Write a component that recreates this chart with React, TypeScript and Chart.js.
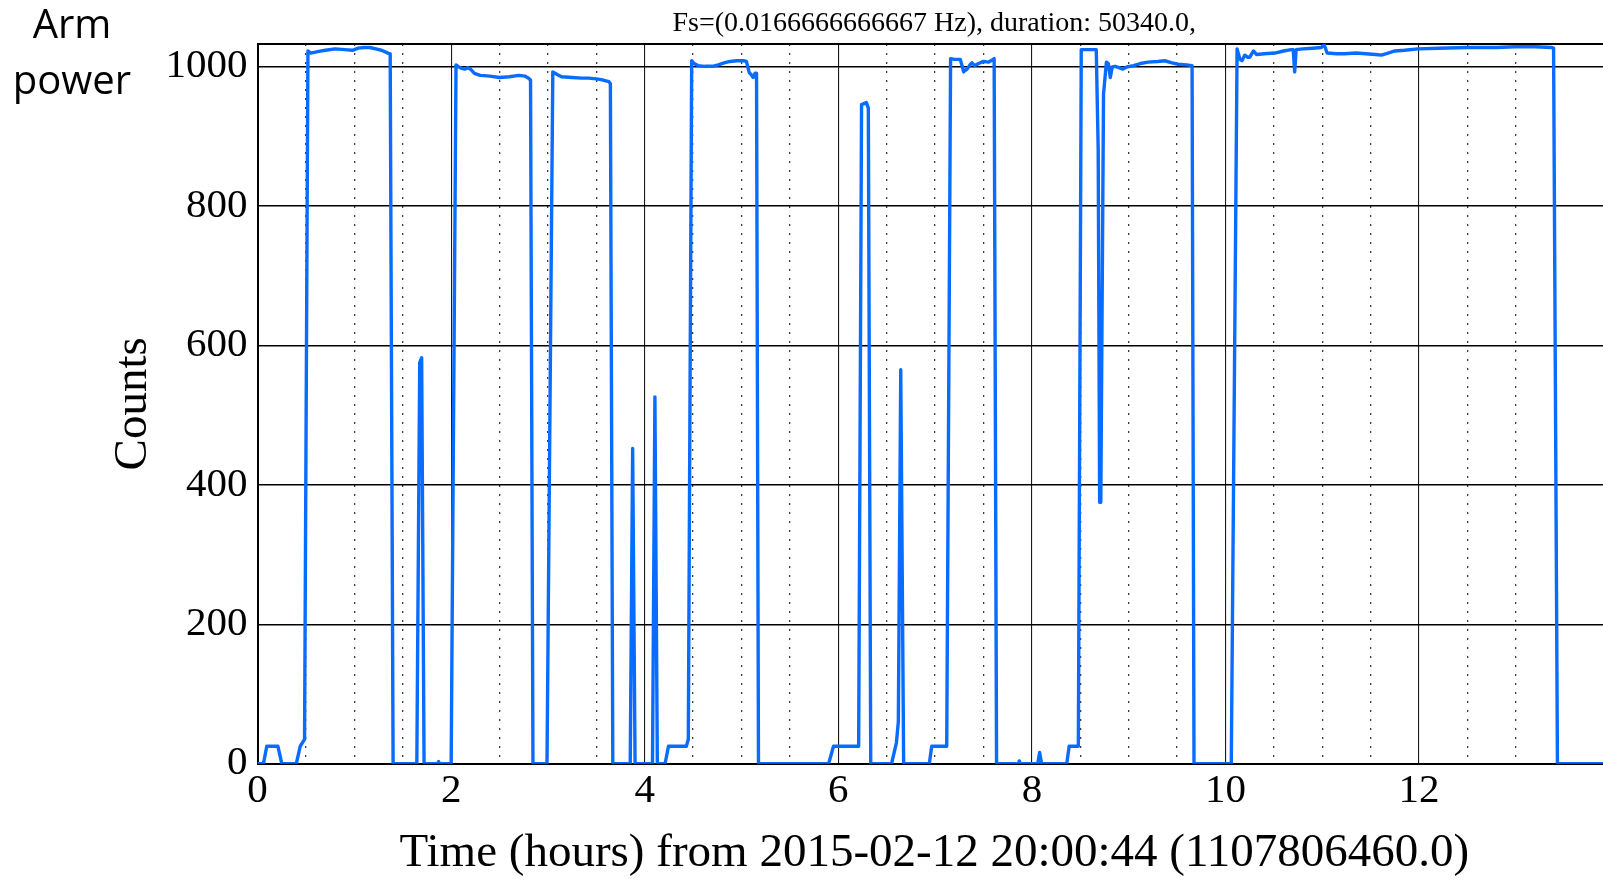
import React, { useEffect, useRef } from "react";
import { Chart, registerables } from "chart.js";

Chart.register(...registerables);

// ---- texts ----
const TITLE = "Fs=(0.0166666666667 Hz), duration: 50340.0,";
const X_TITLE = "Time (hours) from 2015-02-12 20:00:44 (1107806460.0)";
const Y_TITLE = "Counts";
const SIDE_LABEL = ["Arm", "power"];

// ---- axes ----
const X_MAX = 50340 / 3600; // duration in hours
const Y_MAX = 1032;
const xMajorTicks = [0, 2, 4, 6, 8, 10, 12];
const xMinorStep = 0.5;
const yTicks = [0, 200, 400, 600, 800, 1000];

// ---- series (time in hours, arm power in counts) ----
const timeHours = [
  0, 0.06, 0.095, 0.21, 0.25, 0.4, 0.44, 0.485, 0.52, 0.55, 0.62, 0.7, 0.8, 0.9, 0.98, 1.04, 1.1, 1.16, 1.22, 1.28, 1.33, 1.36, 1.37, 1.4,
  1.645, 1.675, 1.695, 1.72, 1.86, 1.87, 1.88, 2.0, 2.05, 2.08, 2.11, 2.14, 2.17, 2.2, 2.24, 2.3, 2.4, 2.5, 2.6, 2.7, 2.76, 2.8, 2.82, 2.845,
  2.99, 3.05, 3.1, 3.14, 3.25, 3.35, 3.42, 3.5, 3.55, 3.6, 3.63, 3.645, 3.67, 3.85, 3.875, 3.9, 4.08, 4.105, 4.13, 4.21, 4.245, 4.43, 4.45, 4.485,
  4.51, 4.55, 4.62, 4.7, 4.76, 4.82, 4.88, 4.95, 5.02, 5.05, 5.08, 5.1, 5.12, 5.14, 5.155, 5.175, 5.9, 5.95, 6.21, 6.24, 6.29, 6.31, 6.335,
  6.55, 6.6, 6.62, 6.645, 6.675, 6.94, 6.965, 7.12, 7.16, 7.2, 7.26, 7.28, 7.295, 7.31, 7.33, 7.36, 7.38, 7.41, 7.45, 7.5, 7.55, 7.59, 7.61, 7.635,
  7.86, 7.87, 7.88, 8.06, 8.08, 8.1, 8.36, 8.385, 8.48, 8.51, 8.665, 8.685, 8.7, 8.712, 8.74, 8.77, 8.79, 8.81, 8.83, 8.86, 8.9, 8.94, 8.98,
  9.05, 9.12, 9.2, 9.3, 9.37, 9.45, 9.51, 9.6, 9.655, 9.675, 10.06, 10.12, 10.15, 10.17, 10.2, 10.23, 10.25, 10.29, 10.32, 10.4, 10.51, 10.6,
  10.68, 10.7, 10.715, 10.73, 10.8, 10.9, 10.99, 11.02, 11.05, 11.15, 11.23, 11.35, 11.45, 11.55, 11.61, 11.68, 11.75, 11.85, 11.99, 12.2,
  12.5, 12.8, 12.99, 13.2, 13.37, 13.39, 13.43, 13.983,
];
const armPowerCounts = [
  0, 0, 25, 25, 0, 0, 25, 35, 1022, 1019, 1021, 1023, 1025, 1024, 1023, 1026, 1027, 1027, 1025, 1023, 1020, 1018, 1018, 0,
  0, 575, 582, 0, 0, 3, 0, 0, 1002, 999, 997, 996, 998, 996, 990, 987, 986, 984, 985, 987, 986, 983, 980, 0,
  0, 992, 988, 985, 984, 983, 983, 982, 981, 979, 978, 975, 0, 0, 452, 0, 0, 526, 0, 0, 25, 25, 35, 1008,
  1004, 1001, 1000, 1000, 1002, 1005, 1007, 1008, 1008, 1007, 991, 988, 984, 990, 990, 0, 0, 25, 25, 945, 948, 940, 0,
  0, 30, 60, 565, 0, 0, 25, 25, 1011, 1010, 1010, 1000, 992, 994, 996, 1002, 1005, 1001, 1004, 1007, 1006, 1009, 1011, 0,
  0, 4, 0, 0, 16, 0, 0, 25, 25, 1024, 1024, 880, 375, 375, 960, 1006, 1004, 984, 999, 1000, 998, 996, 999,
  1001, 1004, 1006, 1007, 1008, 1005, 1003, 1002, 1001, 0, 0, 1025, 1010, 1008, 1016, 1013, 1013, 1022, 1017, 1018, 1019, 1022,
  1024, 1024, 992, 1024, 1025, 1026, 1027, 1031, 1019, 1018, 1018, 1019, 1018, 1017, 1016, 1019, 1022, 1023, 1025, 1026,
  1027, 1027, 1028, 1028, 1027, 1026, 0, 0,
];

const SERIF = "'Liberation Serif', 'DejaVu Serif', serif";
const LINE_COLOR = "#0a6cff";
const CANVAS_W = 1618;
const CANVAS_H = 881;

const isMajorX = (v: number) => xMajorTicks.some((m) => Math.abs(m - v) < 1e-6);
const isEdgeX = (v: number) => Math.abs(v) < 1e-6 || Math.abs(v - X_MAX) < 1e-6;

export default function App() {
  const canvasRef = useRef<HTMLCanvasElement | null>(null);

  useEffect(() => {
    const canvas = canvasRef.current;
    if (!canvas) return;
    const points = timeHours.map((t, i) => ({ x: t, y: armPowerCounts[i] }));

    const chart = new Chart(canvas, {
      type: "line",
      data: {
        datasets: [
          {
            data: points,
            borderColor: LINE_COLOR,
            backgroundColor: LINE_COLOR,
            borderWidth: 3.4,
            pointRadius: 0,
            tension: 0,
            fill: false,
            borderJoinStyle: "round",
            borderCapStyle: "round",
          },
        ],
      },
      options: {
        animation: false,
        responsive: false,
        maintainAspectRatio: false,
        devicePixelRatio: 1,
        layout: { padding: 0 },
        plugins: {
          legend: { display: false },
          tooltip: { enabled: false },
          title: { display: false },
        },
        scales: {
          x: {
            type: "linear",
            position: "bottom",
            min: 0,
            max: X_MAX,
            ticks: {
              stepSize: xMinorStep,
              autoSkip: false,
              maxRotation: 0,
              minRotation: 0,
              padding: 7,
              color: "#000",
              font: { family: SERIF, size: 41, lineHeight: 1 },
              callback: (v: any) => (isMajorX(Number(v)) ? String(v) : ""),
            },
            grid: {
              drawTicks: false,
              color: (ctx: any) => {
                const v = ctx.tick ? ctx.tick.value : 0;
                if (isEdgeX(v)) return "#000";
                return isMajorX(v) ? "#1a1a1a" : "#3a3a3a";
              },
              lineWidth: (ctx: any) => {
                const v = ctx.tick ? ctx.tick.value : 0;
                if (isEdgeX(v)) return 2;
                return isMajorX(v) ? 1.1 : 1.3;
              },
            },
            border: {
              display: true,
              color: "#000",
              width: 2,
              dash: (ctx: any) => {
                if (!ctx.tick) return [];
                const v = ctx.tick.value;
                return isMajorX(v) || isEdgeX(v) ? [] : [2, 7];
              },
            },
            title: {
              display: true,
              text: X_TITLE,
              color: "#000",
              font: { family: SERIF, size: 47, lineHeight: 1 },
              padding: { top: 0, bottom: 3.7 },
            },
            afterFit: (s: any) => {
              s.height = 117.3;
            },
          },
          xTop: {
            type: "linear",
            axis: "x",
            position: "top",
            min: 0,
            max: X_MAX,
            ticks: { display: false },
            grid: { display: false, drawTicks: false },
            border: { display: false },
            title: {
              display: true,
              text: TITLE,
              color: "#000",
              font: { family: SERIF, size: 28, lineHeight: 1 },
              padding: { top: 9.7, bottom: 0 },
            },
            afterFit: (s: any) => {
              s.height = 44;
            },
          },
          y: {
            type: "linear",
            min: 0,
            max: Y_MAX,
            afterBuildTicks: (s: any) => {
              s.ticks = [...yTicks, Y_MAX].map((v) => ({ value: v }));
            },
            ticks: {
              autoSkip: false,
              padding: 10,
              color: "#000",
              font: { family: SERIF, size: 41, lineHeight: 1 },
              callback: (v: any) => (yTicks.includes(Number(v)) ? String(v) : ""),
            },
            grid: {
              drawTicks: false,
              color: "#000",
              lineWidth: (ctx: any) => (ctx.tick && ctx.tick.value === Y_MAX ? 2 : 1.4),
            },
            border: { display: true, color: "#000", width: 2 },
            title: {
              display: true,
              text: Y_TITLE,
              color: "#000",
              font: { family: SERIF, size: 47, lineHeight: 1 },
              padding: { top: 110, bottom: 0 },
            },
            afterFit: (s: any) => {
              s.width = 257.6;
            },
          },
        },
      } as any,
    });

    return () => {
      chart.destroy();
    };
  }, []);

  return (
    <div
      style={{
        position: "fixed",
        left: 0,
        top: 0,
        width: 1603,
        height: 881,
        overflow: "hidden",
        background: "#fff",
      }}
    >
      <div style={{ position: "absolute", left: 0, top: 0, width: CANVAS_W, height: CANVAS_H }}>
        <canvas
          ref={canvasRef}
          width={CANVAS_W}
          height={CANVAS_H}
          style={{ display: "block", width: CANVAS_W, height: CANVAS_H }}
        />
      </div>
      <div
        style={{
          position: "absolute",
          left: 0,
          top: -5.5,
          width: 144,
          textAlign: "center",
          fontFamily: "'Open Sans', 'Noto Sans', sans-serif",
          fontSize: 40,
          lineHeight: "56px",
          color: "#000",
        }}
      >
        {SIDE_LABEL.map((t) => (
          <div key={t}>{t}</div>
        ))}
      </div>
    </div>
  );
}
